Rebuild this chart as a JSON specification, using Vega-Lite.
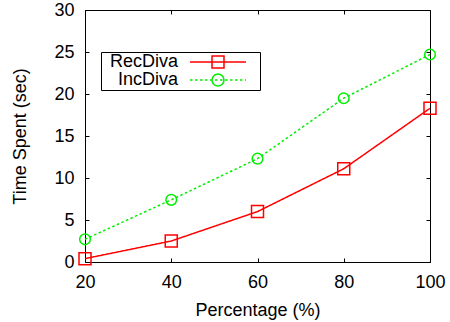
{
  "$schema": "https://vega.github.io/schema/vega-lite/v6.json",
  "width": 345,
  "height": 252,
  "autosize": "none",
  "padding": {"left": 85, "top": 10, "right": 20, "bottom": 60},
  "background": "white",
  "data": {
    "values": [
      {"series": "RecDiva", "pct": 20, "time": 0.4},
      {"series": "RecDiva", "pct": 40, "time": 2.5},
      {"series": "RecDiva", "pct": 60, "time": 6.0},
      {"series": "RecDiva", "pct": 80, "time": 11.1},
      {"series": "RecDiva", "pct": 100, "time": 18.3},
      {"series": "IncDiva", "pct": 20, "time": 2.7},
      {"series": "IncDiva", "pct": 40, "time": 7.4},
      {"series": "IncDiva", "pct": 60, "time": 12.3},
      {"series": "IncDiva", "pct": 80, "time": 19.5},
      {"series": "IncDiva", "pct": 100, "time": 24.7}
    ]
  },
  "resolve": {"axis": {"x": "independent", "y": "independent"}},
  "layer": [
    {
      "mark": {"type": "line", "strokeWidth": 1.5},
      "encoding": {
        "x": {
          "field": "pct", "type": "quantitative",
          "scale": {"domain": [20, 100], "nice": false, "zero": false},
          "axis": {
            "orient": "bottom", "values": [20, 40, 60, 80, 100],
            "title": "Percentage (%)", "titlePadding": 10
          }
        },
        "y": {
          "field": "time", "type": "quantitative",
          "scale": {"domain": [0, 30], "nice": false},
          "axis": {
            "orient": "left", "values": [0, 5, 10, 15, 20, 25, 30],
            "title": "Time Spent (sec)", "titlePadding": 24
          }
        },
        "color": {
          "field": "series", "type": "nominal",
          "scale": {"domain": ["RecDiva", "IncDiva"], "range": ["#ff0000", "#00ee00"]}
        },
        "strokeDash": {
          "field": "series", "type": "nominal",
          "scale": {"domain": ["IncDiva", "RecDiva"], "range": [[2.5, 2.5], [1, 0]]},
          "legend": null
        }
      }
    },
    {
      "transform": [{"filter": "datum.series === 'RecDiva'"}],
      "mark": {"type": "point", "shape": "square", "filled": false, "size": 144, "strokeWidth": 1.5, "color": "#ff0000", "opacity": 1},
      "encoding": {
        "x": {"field": "pct", "type": "quantitative", "axis": null},
        "y": {"field": "time", "type": "quantitative", "axis": null}
      }
    },
    {
      "transform": [{"filter": "datum.series === 'IncDiva'"}],
      "mark": {"type": "point", "shape": "circle", "filled": false, "size": 113, "strokeWidth": 1.5, "color": "#00ee00", "opacity": 1},
      "encoding": {
        "x": {"field": "pct", "type": "quantitative", "axis": null},
        "y": {"field": "time", "type": "quantitative", "axis": null}
      }
    },
    {
      "description": "Invisible layer carrying the mirrored top/right ticks and the key (line-plus-marker symbols).",
      "mark": {"type": "point", "filled": false, "strokeWidth": 1.5, "opacity": 0},
      "encoding": {
        "x": {
          "field": "pct", "type": "quantitative",
          "axis": {"orient": "top", "values": [20, 40, 60, 80, 100], "labels": false, "title": null}
        },
        "y": {
          "field": "time", "type": "quantitative",
          "axis": {"orient": "right", "values": [0, 5, 10, 15, 20, 25, 30], "labels": false, "title": null}
        },
        "color": {
          "field": "series", "type": "nominal",
          "scale": {"domain": ["RecDiva", "IncDiva"], "range": ["#ff0000", "#00ee00"]}
        },
        "shape": {
          "field": "series", "type": "nominal",
          "scale": {
            "domain": ["RecDiva", "IncDiva"],
            "range": [
              "M-7,0H7M-1.5,-1.5H1.5V1.5H-1.5ZM9.4,0",
              "M-7,0h0.625M-5.75,0h0.625M-4.5,0h0.625M-3.25,0h0.625M-2,0h0.625M-0.75,0h0.625M0.5,0h0.625M1.75,0h0.625M3,0h0.625M4.25,0h0.625M5.5,0h0.625M6.75,0h0.25M1.5,0A1.5,1.5,0,1,1,-1.5,0A1.5,1.5,0,1,1,1.5,0ZM9.4,0"
            ]
          },
          "legend": {
            "orient": "none", "legendX": 16, "legendY": 42,
            "title": null, "strokeColor": "black", "padding": 1,
            "symbolSize": 64, "symbolStrokeWidth": 1.5, "symbolFillColor": "transparent",
            "symbolOffset": 107,
            "labelAlign": "right", "labelOffset": -49, "rowPadding": 0, "labelLimit": 0
          }
        }
      }
    }
  ],
  "config": {
    "font": "Liberation Sans",
    "view": {"stroke": "black", "strokeWidth": 1},
    "axis": {
      "domain": false, "grid": false,
      "tickSize": -4, "tickColor": "black", "tickWidth": 1,
      "labelFont": "Liberation Sans", "labelFontSize": 18, "labelColor": "black",
      "labelPadding": 15,
      "titleFont": "Liberation Sans", "titleFontSize": 18, "titleFontWeight": "normal", "titleColor": "black"
    },
    "axisX": {"labelFlush": false},
    "axisY": {"labelFlush": false},
    "legend": {"labelFont": "Liberation Sans", "labelFontSize": 18, "labelColor": "black"}
  }
}
